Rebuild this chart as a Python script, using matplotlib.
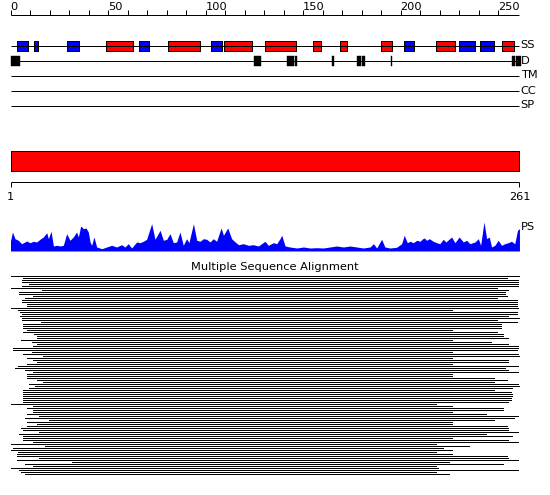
import matplotlib
matplotlib.use("Agg")
import matplotlib.pyplot as plt

# sequence / ruler
SEQ_LEN = 261
RULER_TICKS = list(range(0, 251, 10))
RULER_LABELS = list(range(0, 251, 50))
TRACKS = ["SS", "D", "TM", "CC", "SP"]

# secondary structure (H = helix, red / E = strand, blue)
SS_START = [3.5, 12, 29, 49, 66, 81, 103, 109.6, 130.7, 155, 169, 190, 202, 218, 230, 241, 252]
SS_END = [8.8, 14, 35, 63, 71, 97, 108.6, 124, 146.2, 159, 172.4, 195.8, 207, 228, 238, 248, 258]
SS_TYPE = ["E", "E", "E", "H", "E", "H", "E", "H", "H", "H", "H", "H", "E", "H", "E", "E", "H"]

# disorder segments
DIS_START = [0, 125, 142, 146, 165, 177.7, 180.4, 195.2, 257.2, 259.4]
DIS_END = [5, 128.3, 145.4, 147.1, 166, 179.9, 181.8, 195.8, 258.9, 261.6]

# domain
DOMAIN_START = 1
DOMAIN_END = 261

# profile score
PS_POS = [0, 1, 2.3, 4, 5.7, 7.4, 8.3, 10, 11.7, 13.4, 15.1, 16.8, 18.6, 19.4, 20.8,
          22, 23.7, 25.4, 27.1, 28.8, 30.5, 32.2, 33.9, 34.8, 36, 37.4, 38.7, 39.9,
          40.8, 41.6, 42.8, 44.2, 46.8, 49.3, 51.9, 54.4, 57, 58.7, 60.4, 62.1, 64.7,
          66.4, 68.1, 69.8, 72.4, 74.1, 76.7, 78.4, 80.1, 81.8, 83.5, 85.2, 86.9, 88.6,
          90.3, 91.5, 93.8, 95.5, 97.2, 98.9, 100.6, 102.3, 104, 105.7, 108, 109.2,
          111.4, 113.4, 115.2, 116.9, 119.4, 122, 124.5, 127.1, 130.5, 132.2, 134.8,
          136.5, 138.2, 139.1, 140.8, 143.3, 146.8, 150.2, 153.6, 157, 160.4, 163.8,
          167.3, 170.7, 174.1, 177.5, 180.9, 184.4, 186.1, 187.8, 190.3, 192, 194.6,
          198, 200.6, 201.9, 203.5, 204.9, 206.6, 208.3, 210, 211.4, 212.2, 213.4,
          214.8, 216.8, 218.5, 220.2, 221.9, 223.3, 226.2, 227.9, 230.1, 232.2, 233.9,
          235.6, 238.2, 239.9, 241.1, 242.8, 244.2, 245.5, 246.7, 248.4, 250.1, 251.8,
          253.5, 255.2, 256.9, 258.6, 260, 261]
PS_VAL = [10, 19, 12.3, 10.7, 7.3, 9, 10, 8.3, 9.7, 9, 11.7, 14, 18.3, 12.3, 19.7,
          5, 5.7, 5, 5.7, 17.3, 10.7, 14, 19, 14, 25, 22.3, 23, 19,
          9, 5.7, 14, 4, 2.3, 4, 5.7, 4, 6.3, 4, 7.3, 3, 9,
          8.3, 9.7, 11.7, 27.3, 11.7, 20.7, 10.7, 11.7, 17.3, 8.3, 9, 19, 5.7,
          12.3, 8.3, 27.3, 10.7, 9.7, 12.3, 11.7, 9, 12.3, 9.7, 23, 15.7,
          23, 12.3, 9, 6.3, 7.3, 5.7, 6.3, 5, 9.7, 5.7, 8.3,
          7.3, 12.3, 15.7, 5, 4, 3, 4, 3, 3.3, 3, 4,
          5, 4, 5, 4, 3, 4, 7.3, 3, 11.7, 4, 3,
          3.7, 7.3, 15.7, 8.3, 9.7, 8.3, 10.7, 9.7, 12.3, 13, 10.7,
          12.3, 9.7, 8.3, 7.3, 11.7, 9, 14, 8.3, 14, 9, 10.7,
          7.3, 9, 12.3, 5.7, 29, 12.3, 14, 4, 5.7, 10.7, 5.7,
          7.3, 8.3, 9.7, 7.3, 20.7, 22.3]

# multiple sequence alignment: first / last aligned residue of every hit
MSA_START = [0, 6.6, 5.7, 5.7, 9.7, 5.7, 0, 16, 4.5, 4.5,
             11.7, 7.4, 5.7, 5.7, 8.6, 8.6, 0, 3.7, 4.9, 5.7,
             4.9, 5.7, 5.7, 15.6, 6.6, 6.6, 6.6, 8.3, 6.6, 12.2,
             13.8, 13.8, 5.4, 10.9, 13.8, 11.7, 1.5, 1.5, 10.9, 6.6,
             16.8, 8.6, 11.7, 13.8, 8.6, 3.7, 2.3, 7.4, 11.7, 8.6,
             8.6, 8.6, 13.8, 16.8, 9.7, 12.6, 9.7, 6.6, 6.6, 6.6,
             6.6, 6.6, 6.6, 6.6, 0, 11.7, 8.6, 11.7, 11.7, 8.6,
             14.8, 7.4, 19.9, 8.6, 13.8, 8.6, 5.4, 6.6, 14.8, 4.5,
             6.6, 6.6, 6.6, 11.7, 0, 17.7, 1.5, 0, 3.7, 3.2,
             3.2, 14.8, 3.2, 31.4, 7.4, 11.7, 0, 4.5, 5.4, 7.4]
MSA_END = [261, 254.5, 260.3, 260.3, 260.3, 260.3, 249.3, 255, 253.6, 253.6,
           254.5, 249.3, 259.6, 259.6, 259.6, 259.6, 260.3, 226.3, 259.6, 259.6,
           255, 261, 249.3, 259.6, 251.4, 251.4, 251.4, 226.3, 249.3, 252.4,
           252.4, 255, 226.3, 246.3, 255, 260.3, 260.3, 259.6, 226.3, 260.3,
           261, 226.3, 255, 255, 226.3, 260.3, 253.6, 255, 260.3, 226.3,
           226.3, 248, 254.5, 248, 260.3, 261, 257, 248, 256.5, 257,
           257, 256.5, 256.5, 255, 218, 226.3, 252.4, 252.4, 226.3, 244,
           260.3, 258.4, 248, 226.3, 226.3, 254.5, 255, 255, 260.3, 244,
           257, 226.3, 255, 260.3, 218, 235, 222, 226.3, 218, 226.3,
           254.5, 255, 260.3, 225, 252.4, 218, 219, 260.3, 218, 225]

RED = "#ff0000"
BLUE = "#0000ff"
FS = 8.2
W, H = 550, 495
X0 = 10.5            # pixel of residue 0
PX = 1.95            # pixels per residue
XLIM = (-X0 / PX, (W - X0) / PX)
LW = 0.72


def frac(top, bottom):
    # axes rectangle from pixel rows (top -> bottom)
    return [0, 1 - bottom / H, 1, (bottom - top) / H]


fig = plt.figure(figsize=(W / 100, H / 100), dpi=100)

# feature tracks, y measured in pixel rows
ax = fig.add_axes([0, 0, 1, 1])
ax.set_xlim(*XLIM)
ax.set_ylim(H, 0)
ax.axis("off")

# top ruler
ax.hlines(14.5, 0, SEQ_LEN, color="k", lw=LW)
ax.vlines(RULER_TICKS, 10, 14.5, color="k", lw=LW)
for t in RULER_LABELS:
    ax.text(t, 10, str(t), ha="left", va="baseline", fontsize=FS)

# track lines and labels
track_y = [45.5, 60.5, 75.5, 90.5, 105.5]
for name, y in zip(TRACKS, track_y):
    ax.hlines(y, 0, SEQ_LEN, color="k", lw=LW)
    ax.text(SEQ_LEN + 0.6, y, name, ha="left", va="center", fontsize=FS)

ss_bars = [(s, e - s) for s, e in zip(SS_START, SS_END)]
ss_cols = [RED if t == "H" else BLUE for t in SS_TYPE]
ax.broken_barh(ss_bars, (40.5, 10.5), facecolors=ss_cols, edgecolor="k", lw=LW)

dis_bars = [(s, e - s) for s, e in zip(DIS_START, DIS_END)]
ax.broken_barh(dis_bars, (55.5, 10.5), facecolors="k", edgecolor="k", lw=0.3)

# domain bar and its ruler
ax.broken_barh([(DOMAIN_START - 1, DOMAIN_END - DOMAIN_START + 1)], (150.5, 20),
               facecolors=RED, edgecolor="k", lw=LW)
ax.hlines(181.5, DOMAIN_START - 1, DOMAIN_END, color="k", lw=LW)
ax.vlines([DOMAIN_START - 1, DOMAIN_END], 181.5, 186.5, color="k", lw=LW)
ax.text(DOMAIN_START - 1, 200, str(DOMAIN_START), ha="center", va="baseline", fontsize=FS)
ax.text(DOMAIN_END, 200, str(DOMAIN_END), ha="center", va="baseline", fontsize=FS)

# profile score
ax_ps = fig.add_axes(frac(221, 251))
ax_ps.set_xlim(*XLIM)
ax_ps.set_ylim(0, 30)
ax_ps.axis("off")
ax_ps.fill_between(PS_POS, PS_VAL, 0, color=BLUE, lw=0)
ax_ps.hlines(0.5, 0, SEQ_LEN + 5.5, color=BLUE, lw=LW)
ax.text(SEQ_LEN + 0.6, 230.5, "PS", ha="left", va="baseline", fontsize=FS)

# alignment
fig.text(0.5, 1 - 270 / H, "Multiple Sequence Alignment", ha="center",
         va="baseline", fontsize=FS)
ax_msa = fig.add_axes(frac(274.5, 474.5))
ax_msa.set_xlim(*XLIM)
ax_msa.set_ylim(len(MSA_START) - 0.5, -0.5)
ax_msa.axis("off")
ax_msa.hlines(range(len(MSA_START)), MSA_START, MSA_END, color="k", lw=0.72,
              antialiased=False)

fig.savefig("out.png", dpi=100)
